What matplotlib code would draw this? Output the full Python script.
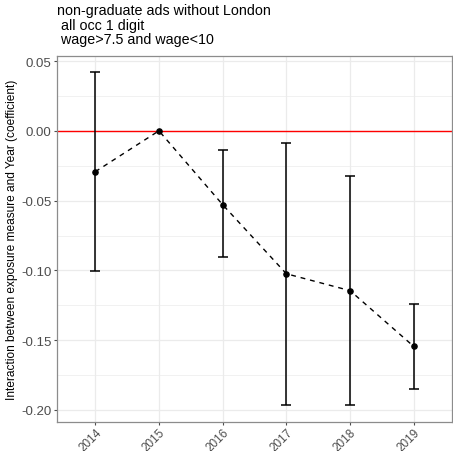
import matplotlib.pyplot as plt
from matplotlib.ticker import MultipleLocator

plt.rcParams['font.family'] = ['Liberation Sans', 'DejaVu Sans']

years = [2014, 2015, 2016, 2017, 2018, 2019]
coef = [-0.0293, 0.0, -0.0529, -0.1024, -0.1145, -0.1545]
upper = [0.0420, 0.0, -0.0138, -0.0088, -0.0326, -0.1243]
lower = [-0.1005, 0.0, -0.0907, -0.1964, -0.1964, -0.1850]

fig = plt.figure(figsize=(4.53, 4.52), dpi=100)
ax = fig.add_axes([57 / 453, 1 - 423 / 452, 395 / 453, 366 / 452])

# grid: major + minor on y, major on x
ax.set_axisbelow(True)
ax.yaxis.set_major_locator(MultipleLocator(0.05))
ax.yaxis.set_minor_locator(MultipleLocator(0.025))
ax.grid(which='major', color='#EBEBEB', lw=0.9)
ax.grid(which='minor', axis='y', color='#EBEBEB', lw=0.5)
for s in ax.spines.values():
    s.set_color('#8C8C8C')
    s.set_linewidth(0.9)

ax.axhline(0, color='red', lw=1)

# error bars only where the interval has width (2015 is the reference year)
has_ci = [u > l for u, l in zip(upper, lower)]
ebar_years = [y for y, k in zip(years, has_ci) if k]
ebar_c = [c for c, k in zip(coef, has_ci) if k]
ebar_lo = [c - l for c, l, k in zip(coef, lower, has_ci) if k]
ebar_hi = [u - c for c, u, k in zip(coef, upper, has_ci) if k]
ax.errorbar(ebar_years, ebar_c, yerr=[ebar_lo, ebar_hi], fmt='none',
            ecolor='black', elinewidth=1.1, capsize=3.5, capthick=1.1)
ax.plot(years, coef, color='black', lw=1, dashes=(3.5, 3.5))
ax.scatter(years, coef, color='black', s=14, zorder=5)

ax.set_xlim(2013.4, 2019.6)
ax.set_ylim(-0.2086, 0.0536)
ax.set_xticks(years)
ax.set_xticklabels([str(y) for y in years], rotation=45, ha='right',
                   va='top', rotation_mode='anchor')
ax.set_yticklabels([f'{v:.2f}' for v in ax.get_yticks()])
ax.tick_params(axis='both', which='major', colors='#4D4D4D',
               length=2.2, width=0.8, labelcolor='#4D4D4D')
ax.tick_params(axis='y', labelsize=9.5, pad=1.7)
ax.tick_params(axis='x', labelsize=8.5, pad=1.0)
ax.tick_params(axis='y', which='minor', length=0)
ax.set_ylabel('Interaction between exposure measure and Year (coefficient)',
              fontsize=8.6)
ax.yaxis.set_label_coords(-0.0975, 0.5)

fig.text(57 / 453, 1 - 4 / 452,
         'non-graduate ads without London\n all occ 1 digit\n wage>7.5 and wage<10',
         ha='left', va='top', fontsize=10.3, linespacing=1.05)

fig.savefig('out.png', dpi=100)
